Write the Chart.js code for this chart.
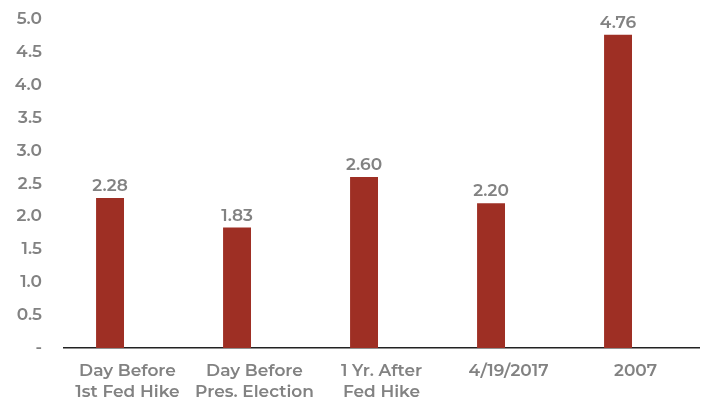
<!DOCTYPE html>
<html>
<head>
<meta charset="utf-8">
<script src="https://cdn.jsdelivr.net/npm/chart.js@4.4.0/dist/chart.umd.min.js"></script>
<style>
  html, body { margin: 0; padding: 0; background: #fff; }
  #wrap { width: 705px; height: 400px; position: relative; }
</style>
</head>
<body>
<div id="wrap"><canvas id="myChart"></canvas></div>
<script>
const categories = [
    ['Day Before', '1st Fed Hike'],
    ['Day Before', 'Pres. Election'],
    ['1 Yr. After', 'Fed Hike'],
    '4/19/2017',
    '2007'
];
const values = [2.28, 1.83, 2.60, 2.20, 4.76];
// empty second series: the original is a clustered chart, so bars sit left of each label
const emptySeries = [null, null, null, null, null];
const yTicks = [0, 0.5, 1.0, 1.5, 2.0, 2.5, 3.0, 3.5, 4.0, 4.5, 5.0];

const gray = '#828282';
const fontFamily = "'Montserrat', 'Open Sans', 'Noto Sans', sans-serif";

// labels over the bars
const valueLabels = {
    id: 'valueLabels',
    afterDatasetsDraw(chart) {
        const ctx = chart.ctx;
        const meta = chart.getDatasetMeta(0);
        ctx.save();
        ctx.font = '600 17px ' + fontFamily;
        ctx.fillStyle = gray;
        ctx.textAlign = 'center';
        ctx.textBaseline = 'alphabetic';
        meta.data.forEach(function (bar, i) {
            ctx.fillText(values[i].toFixed(2), bar.x, bar.y - 7);
        });
        ctx.restore();
    }
};

new Chart(document.getElementById('myChart'), {
    type: 'bar',
    data: {
        labels: categories,
        datasets: [{
            data: values,
            backgroundColor: '#9e2f24',
            barPercentage: 0.8,
            categoryPercentage: 0.55
        }, {
            data: emptySeries,
            backgroundColor: 'transparent',
            barPercentage: 0.8,
            categoryPercentage: 0.55
        }]
    },
    options: {
        responsive: true,
        maintainAspectRatio: false,
        animation: false,
        layout: { padding: { top: 19, right: 6, left: 0, bottom: 0 } },
        plugins: {
            legend: { display: false },
            tooltip: { enabled: false }
        },
        scales: {
            x: {
                afterFit(axis) { axis.height = 52; },
                grid: { display: false, drawTicks: false },
                border: { display: true, color: '#222', width: 1.5 },
                ticks: {
                    color: gray,
                    font: { family: fontFamily, size: 17, weight: '600', lineHeight: 1.25 },
                    padding: 12,
                    maxRotation: 0,
                    autoSkip: false
                }
            },
            y: {
                min: 0,
                max: 5,
                afterFit(axis) {
                    axis.width = 64;
                    // tick padding would otherwise push the plot top down
                    axis.paddingTop = 0;
                    axis.paddingBottom = 0;
                },
                afterBuildTicks(axis) {
                    axis.ticks = yTicks.map(function (v) { return { value: v }; });
                },
                grid: { display: false, drawTicks: false },
                border: { display: false },
                ticks: {
                    color: gray,
                    font: { family: fontFamily, size: 17, weight: '600' },
                    padding: 22,
                    callback: function (v) { return v === 0 ? '-' : v.toFixed(1); }
                }
            }
        }
    },
    plugins: [valueLabels]
});
</script>
</body>
</html>
